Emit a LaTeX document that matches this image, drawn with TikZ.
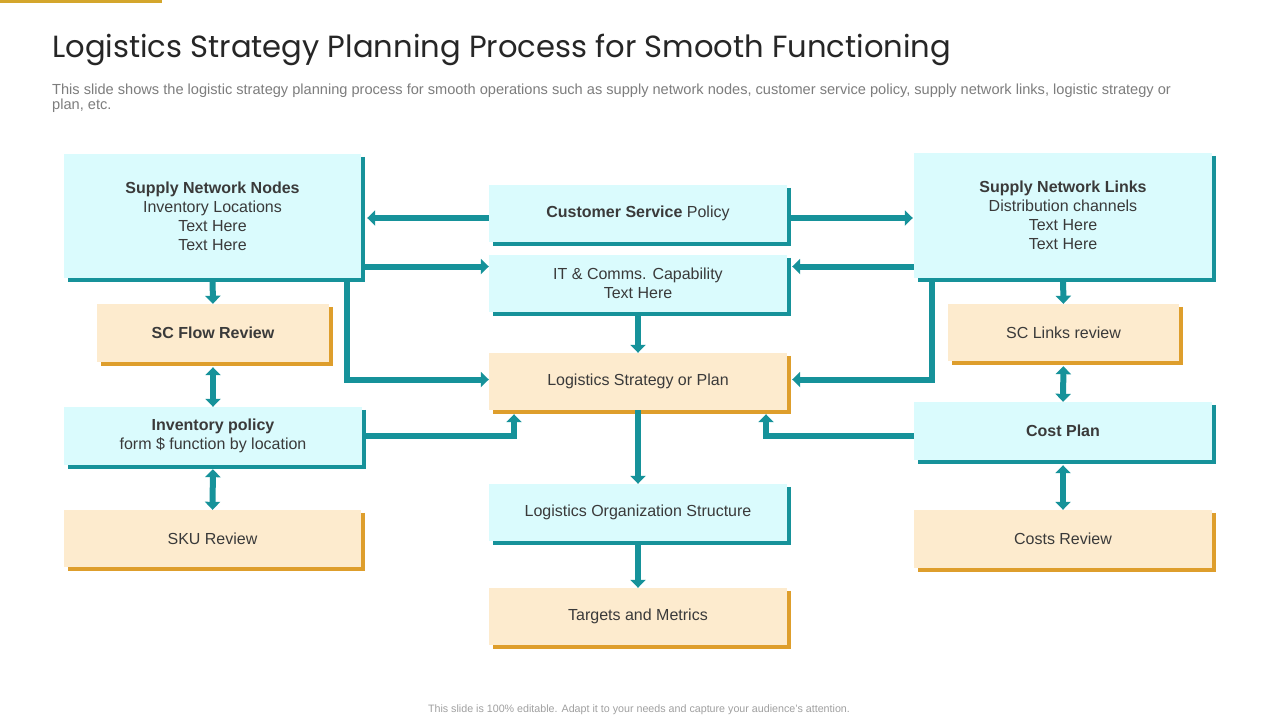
\documentclass[tikz,border=0pt]{standalone}
\usepackage{fontspec}
\setmainfont{Liberation Sans}
\newfontfamily\titlefont{Poppins}
\usetikzlibrary{arrows.meta}

\definecolor{arrowteal}{RGB}{22,146,154}
\definecolor{cyanfill}{RGB}{218,251,253}
\definecolor{orangefill}{RGB}{253,235,206}
\definecolor{orangeline}{RGB}{222,158,44}
\definecolor{goldbar}{RGB}{212,166,44}
\definecolor{boxtext}{RGB}{58,58,58}
\definecolor{titletext}{RGB}{38,38,38}
\definecolor{subtext}{RGB}{125,125,125}
\definecolor{foottext}{RGB}{160,160,160}

\tikzset{
  box/.style={inner sep=0pt, align=center, text=boxtext,
    font=\fontsize{16}{19}\selectfont},
  bluebox/.style={box, fill=cyanfill},
  orangebox/.style={box, fill=orangefill},
  arr/.style={arrowteal, line width=6pt, -{Triangle[width=15pt,length=8pt]}},
  darr/.style={arrowteal, line width=6pt,
    {Triangle[width=15pt,length=8pt]}-{Triangle[width=15pt,length=8pt]}},
}

\begin{document}
\begin{tikzpicture}[x=1pt, y=-1pt]
  \useasboundingbox (0,0) rectangle (1280,720);
  \fill[white] (0,0) rectangle (1280,720);
  \fill[goldbar] (0,0) rectangle (162,3);

  \node[anchor=base west, inner sep=0pt, text=titletext,
    font=\titlefont\fontsize{30.6}{36}\selectfont] (title) at (52,57)
    {Logistics Strategy Planning Process for Smooth Functioning};
  \node[anchor=base west, inner sep=0pt, text=subtext,
    font=\fontsize{14.6}{15}\selectfont] (sub1) at (52,94)
    {This slide shows the logistic strategy planning process for smooth operations such as supply network nodes, customer service policy, supply network links, logistic strategy or};
  \node[anchor=base west, inner sep=0pt, text=subtext,
    font=\fontsize{14.6}{15}\selectfont] (sub2) at (52,109) {plan, etc.};

  % left column
  \node[bluebox, minimum width=297pt, minimum height=124pt] (snn) at (212.5,216)
    {\textbf{Supply Network Nodes}\\Inventory Locations\\Text Here\\Text Here};
  \node[orangebox, minimum width=232pt, minimum height=58pt] (scflow) at (213,333)
    {\textbf{SC Flow Review}};
  \node[bluebox, minimum width=298pt, minimum height=58pt] (invpol) at (213,436)
    {\textbf{Inventory policy}\\form \$ function by location};
  \node[orangebox, minimum width=297pt, minimum height=57pt] (sku) at (212.5,538.5)
    {SKU Review};

  % centre column
  \node[bluebox, minimum width=298pt, minimum height=57pt] (csp) at (638,213.5)
    {\textbf{Customer Service} Policy};
  \node[bluebox, minimum width=298pt, minimum height=57pt] (itc) at (638,283.5)
    {IT \& Comms. Capability\\Text Here};
  \node[orangebox, minimum width=298pt, minimum height=57pt] (lsp) at (638,381.5)
    {Logistics Strategy or Plan};
  \node[bluebox, minimum width=298pt, minimum height=57pt] (los) at (638,512.5)
    {Logistics Organization Structure};
  \node[orangebox, minimum width=298pt, minimum height=57pt] (tam) at (638,616.5)
    {Targets and Metrics};

  % right column
  \node[bluebox, minimum width=298pt, minimum height=125pt] (snl) at (1063,215.5)
    {\textbf{Supply Network Links}\\Distribution channels\\Text Here\\Text Here};
  \node[orangebox, minimum width=231pt, minimum height=57pt] (sclinks) at (1063.5,332.5)
    {SC Links review};
  \node[bluebox, minimum width=298pt, minimum height=58pt] (cost) at (1063,431)
    {\textbf{Cost Plan}};
  \node[orangebox, minimum width=298pt, minimum height=58pt] (costrev) at (1063,539)
    {Costs Review};

  % right and bottom edges
  \foreach \n in {snn,invpol,csp,itc,los,snl,cost}
    \draw[arrowteal, line width=4pt] ([xshift=2pt,yshift=-3pt]\n.north east)
      -- ([xshift=2pt,yshift=-2pt]\n.south east) -- ([xshift=4pt,yshift=-2pt]\n.south west);
  \foreach \n in {scflow,sku,lsp,tam,sclinks,costrev}
    \draw[orangeline, line width=4pt] ([xshift=2pt,yshift=-3pt]\n.north east)
      -- ([xshift=2pt,yshift=-2pt]\n.south east) -- ([xshift=4pt,yshift=-2pt]\n.south west);

  % connectors
  \draw[arr, shorten >=6pt] (csp.west |- 0,218) -- (snn.east |- 0,218);
  \draw[arr, shorten >=1pt] (csp.east |- 0,218) -- (snl.west |- 0,218);
  \draw[arr] (snn.east |- 0,266.5) -- (itc.west |- 0,266.5);
  \draw[arr, shorten >=5pt] (snl.west |- 0,266.5) -- (itc.east |- 0,266.5);
  \draw[arr] (snn.south -| 347,0) |- (lsp.west |- 0,379.5);
  \draw[arr, shorten >=5pt] (snl.south -| 932,0) |- (lsp.east |- 0,379.5);
  \draw[arr] (itc.south) -- (lsp.north);
  \draw[arr, shorten >=4pt] (invpol.east |- 0,436) -| (lsp.south -| 514,0);
  \draw[arr, shorten >=4pt] (cost.west |- 0,436) -| (lsp.south -| 766,0);
  \draw[arr] (lsp.south) -- (los.north);
  \draw[arr] (los.south) -- (tam.north);

  \draw[arr] (snn.south) -- (scflow.north);
  \draw[darr, shorten <=5pt] (scflow.south) -- (invpol.north);
  \draw[darr, shorten <=4pt] (invpol.south) -- (sku.north);
  \draw[arr] (snl.south) -- (sclinks.north);
  \draw[darr, shorten <=5pt] (sclinks.south) -- (cost.north);
  \draw[darr, shorten <=5pt] (cost.south) -- (costrev.north);

  \node[text=foottext, inner sep=0pt, font=\fontsize{10.7}{12}\selectfont] (foot) at (639,710)
    {This slide is 100\% editable. Adapt it to your needs and capture your audience's attention.};
\end{tikzpicture}
\end{document}
